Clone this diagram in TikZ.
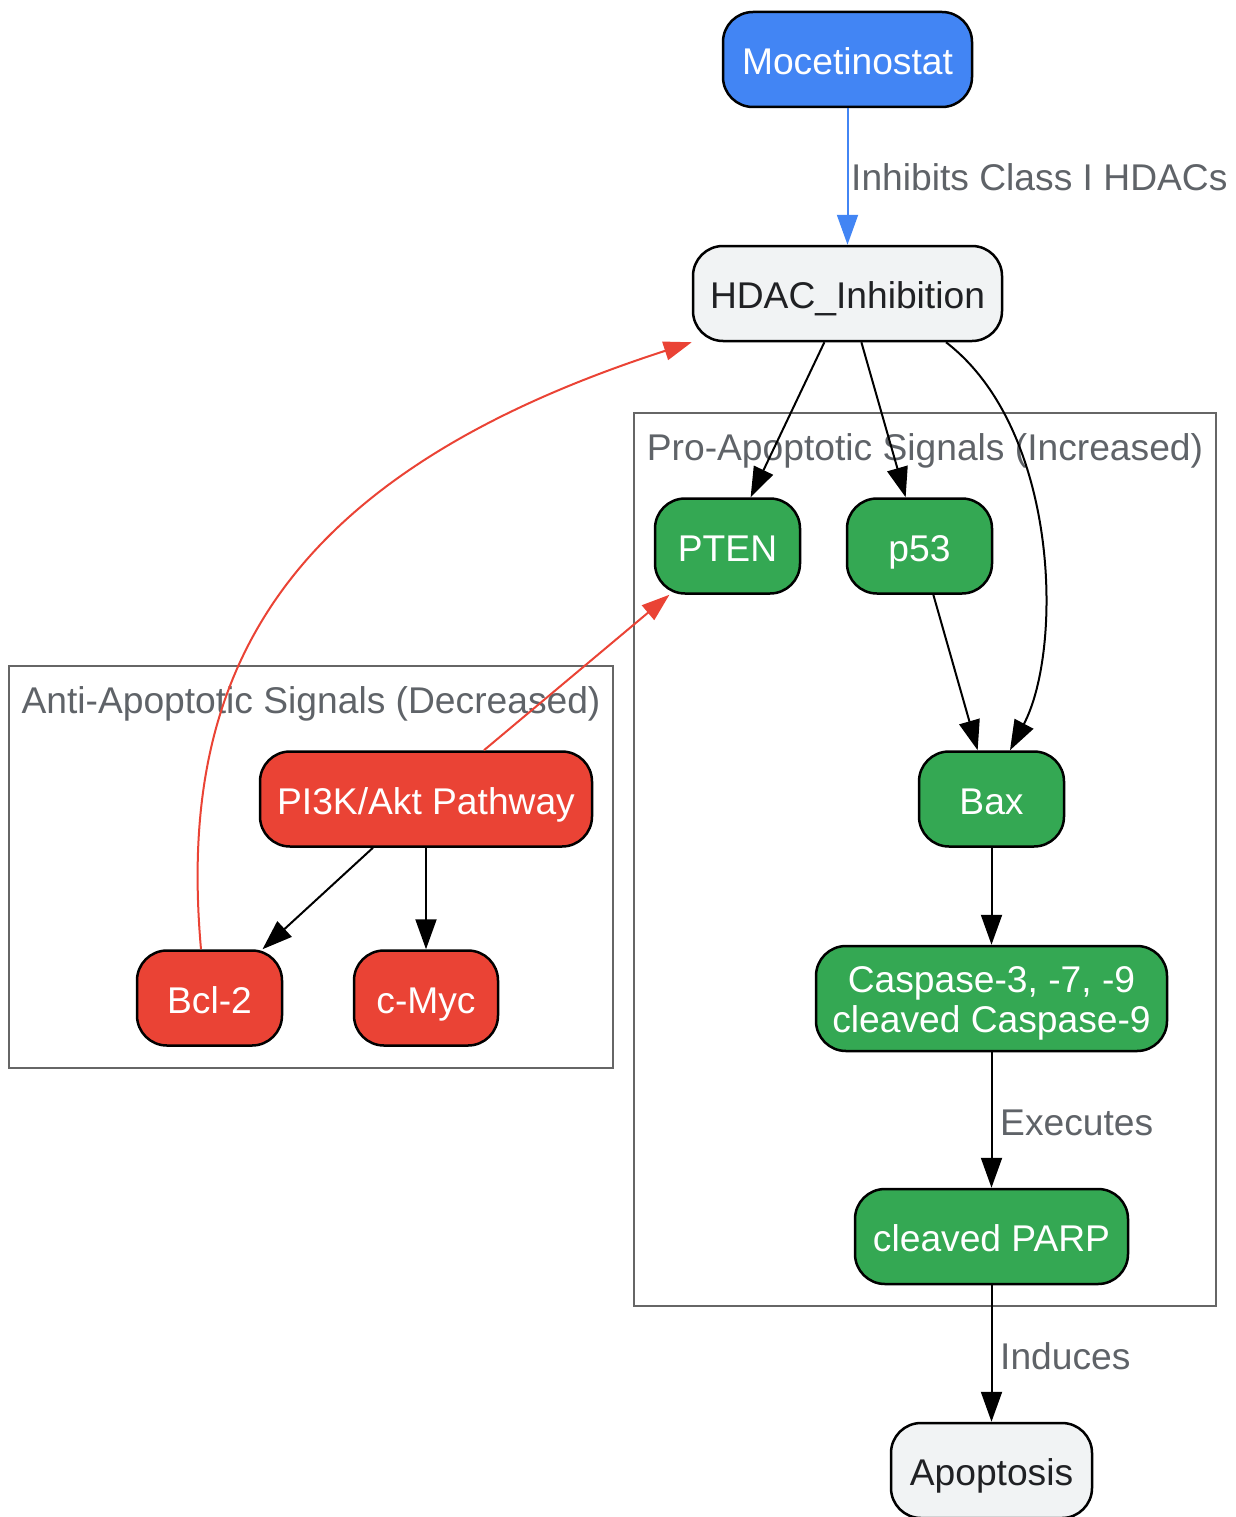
\documentclass[tikz,border=0pt]{standalone}
\usepackage{fontspec}
\setmainfont{Liberation Sans}
\usetikzlibrary{arrows.meta,calc}
\definecolor{gblue}{HTML}{4285F4}
\definecolor{ggreen}{HTML}{34A853}
\definecolor{gred}{HTML}{EA4335}
\definecolor{glight}{HTML}{F1F3F4}
\definecolor{gtext}{HTML}{202124}
\definecolor{glabel}{HTML}{5F6368}
\definecolor{gcluster}{HTML}{666666}
\tikzset{
  base/.style={rectangle, rounded corners=30pt, draw=black, line width=2.5pt, inner sep=0pt,
    minimum height=95pt, align=center, font=\fontsize{37.2}{42}\selectfont},
  oneline/.style={text height=33pt, text depth=3pt},
  bluebox/.style={base, oneline, fill=gblue, text=white},
  greybox/.style={base, oneline, fill=glight, text=gtext},
  greenbox/.style={base, oneline, fill=ggreen, text=white},
  greenbox2/.style={base, fill=ggreen, text=white},
  redbox/.style={base, oneline, fill=gred, text=white},
  cluster/.style={rectangle, draw=gcluster, line width=2.5pt, inner sep=0pt},
  clabel/.style={text=glabel, inner sep=0pt, text height=33pt, text depth=3pt, font=\fontsize{37.2}{42}\selectfont},
  elabel/.style={text=glabel, inner sep=0pt, anchor=west, text height=33pt, text depth=3pt, font=\fontsize{37.2}{42}\selectfont},
  blk/.style={draw=black, line width=2pt, -{Triangle[length=30pt,width=21pt]}},
  redarrow/.style={draw=gred, line width=2pt, -{Triangle[length=28pt,width=19pt]}},
  bluearrow/.style={draw=gblue, line width=2pt, -{Triangle[length=30pt,width=21pt]}},
}
\begin{document}
\begin{tikzpicture}[x=1pt,y=-1pt]
\useasboundingbox (0,0) rectangle (1235,1517);
% clusters
\node[cluster, minimum width=582pt, minimum height=893pt] (pro) at (925,859.5) {};
\node[clabel] (prolab) at (925,445) {Pro-Apoptotic Signals (Increased)};
\node[cluster, minimum width=604pt, minimum height=402pt] (anti) at (311,867) {};
\node[clabel] (antilab) at (311,698) {Anti-Apoptotic Signals (Decreased)};
% nodes
\node[bluebox, minimum width=249pt] (moc) at (847.5,59.5) {Mocetinostat};
\node[greybox, minimum width=309pt] (hdac) at (847.5,293.5) {HDAC\_Inhibition};
\node[greenbox, minimum width=145pt] (pten) at (727.5,546) {PTEN};
\node[greenbox, minimum width=145pt] (p53) at (919.5,546) {p53};
\node[greenbox, minimum width=145pt] (bax) at (991.5,799) {Bax};
\node[greenbox2, minimum width=351pt, minimum height=105pt, text height=76pt] (casp) at (991.5,998.5) {Caspase-3, -7, -9\\[-2pt]cleaved Caspase-9};
\node[greenbox, minimum width=273pt] (parp) at (991.5,1236.5) {cleaved PARP};
\node[greybox, minimum width=201pt] (apo) at (991.5,1470.5) {Apoptosis};
\node[redbox, minimum width=332pt] (pi3k) at (426,799) {PI3K/Akt Pathway};
\node[redbox, minimum width=145pt] (bcl) at (209.5,998) {Bcl-2};
\node[redbox, minimum width=144pt] (myc) at (426,998) {c-Myc};
% edges
\draw[bluearrow] (moc) -- (hdac);
\node[elabel] (l1) at (851,176) {Inhibits Class I HDACs};
\draw[blk] (hdac) -- (pten);
\draw[blk] (hdac) -- (p53);
\draw[blk] ($(hdac.south)+(98.5,0)$) .. controls (1060,430) and (1063,650) .. ($(bax.north)+(18.5,0)$);
\draw[blk] (p53) -- (bax);
\draw[blk] (bax) -- (casp);
\draw[blk] (casp) -- (parp);
\node[elabel] (l2) at (1000,1120) {Executes};
\draw[blk] (parp) -- (apo);
\node[elabel] (l3) at (1000,1354) {Induces};
\draw[blk] (pi3k) -- (bcl);
\draw[blk] (pi3k) -- (myc);
\draw[redarrow] (pi3k) -- (pten);
\draw[redarrow] ($(bcl.north)+(-8.5,0)$) .. controls (178,690) and (265,480) .. (hdac.south west);
\end{tikzpicture}
\end{document}
